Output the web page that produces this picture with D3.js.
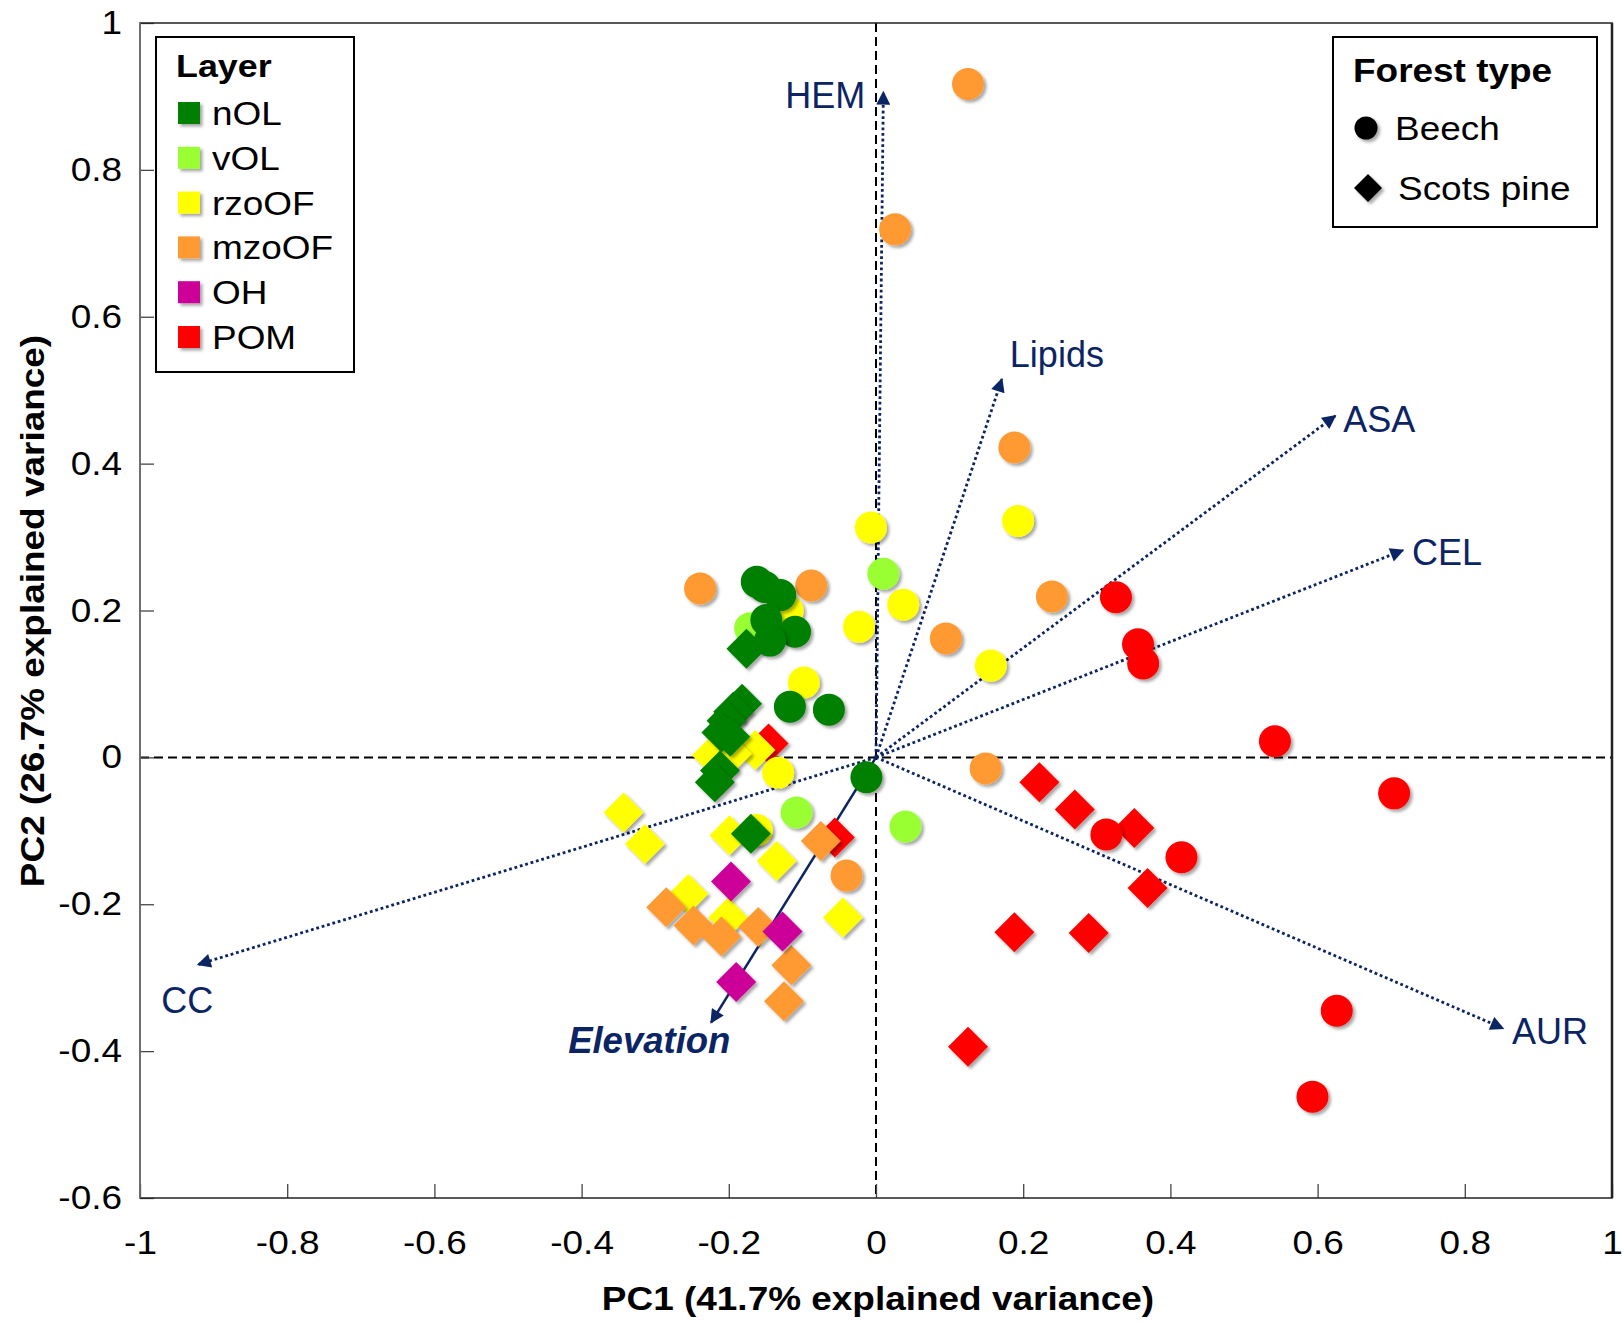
<!DOCTYPE html>
<html>
<head>
<meta charset="utf-8">
<script src="https://cdn.jsdelivr.net/npm/d3@7"></script>
<style>
  body { margin: 0; background: #fff; }
  svg { display: block; font-family: "Liberation Sans", Arial, sans-serif; }
</style>
</head>
<body>
<svg id="chart" width="1623" height="1322"></svg>
<script>
// --- data ---
const layers = ["nOL", "vOL", "rzoOF", "mzoOF", "OH", "POM"];
const layerColors = ["#008000", "#99FF33", "#FFFF00", "#FF9933", "#CC0099", "#FF0000"];
const forestTypes = ["Beech", "Scots pine"];

const xTicks = [-1, -0.8, -0.6, -0.4, -0.2, 0, 0.2, 0.4, 0.6, 0.8, 1];
const yTicks = [-0.6, -0.4, -0.2, 0, 0.2, 0.4, 0.6, 0.8, 1];

// sample scores [PC1, PC2], one array per layer x forest type
const pinePOM = [[0.222, -0.034], [0.270, -0.071], [0.351, -0.096], [0.369, -0.178], [0.188, -0.238],
  [0.289, -0.239], [0.125, -0.394], [-0.056, -0.109], [-0.146, 0.019]];
const beechPOM = [[0.326, 0.218], [0.356, 0.154], [0.363, 0.128], [0.313, -0.105], [0.415, -0.136],
  [0.542, 0.022], [0.704, -0.049], [0.626, -0.345], [0.593, -0.462]];
const pineRzoOF = [[-0.343, -0.075], [-0.314, -0.118], [-0.199, -0.106], [-0.135, -0.141], [-0.255, -0.186],
  [-0.201, -0.218], [-0.045, -0.218], [-0.164, 0.010], [-0.223, 0.003], [-0.196, 0.005]];
const beechRzoOF = [[-0.007, 0.313], [0.193, 0.322], [0.037, 0.208], [-0.023, 0.178], [0.156, 0.125],
  [-0.098, 0.102], [-0.133, -0.021], [-0.162, -0.099], [-0.120, 0.200]];
const beechVOL = [[0.010, 0.250], [-0.108, -0.075], [0.040, -0.094], [-0.171, 0.176]];
const pineMzoOF = [[-0.075, -0.114], [-0.285, -0.204], [-0.248, -0.229], [-0.210, -0.244], [-0.160, -0.231],
  [-0.115, -0.283], [-0.125, -0.332]];
const beechMzoOF = [[0.125, 0.917], [0.026, 0.719], [0.188, 0.422], [0.239, 0.219], [0.095, 0.162],
  [0.149, -0.015], [-0.040, -0.161], [-0.239, 0.230], [-0.088, 0.234]];
const pineOH = [[-0.197, -0.169], [-0.127, -0.237], [-0.190, -0.306]];
const pineNOL = [[-0.176, 0.148], [-0.182, 0.073], [-0.194, 0.062], [-0.203, 0.050], [-0.210, 0.034],
  [-0.198, 0.028], [-0.212, -0.018], [-0.219, -0.034], [-0.170, -0.104]];
const beechNOL = [[-0.162, 0.239], [-0.151, 0.232], [-0.130, 0.221], [-0.149, 0.187], [-0.110, 0.171],
  [-0.144, 0.159], [-0.117, 0.069], [-0.064, 0.065], [-0.013, -0.027]];

// variable loadings
const loadingNames = ["HEM", "Lipids", "ASA", "CEL", "AUR", "CC", "Elevation"];
const loadingPC1 = [0.010, 0.171, 0.624, 0.716, 0.852, -0.921, -0.224];
const loadingPC2 = [0.906, 0.515, 0.465, 0.282, -0.369, -0.282, -0.361];

// draw order (later series sit on top)
const series = [
  { layer: "POM", forest: "Scots pine", points: pinePOM },
  { layer: "POM", forest: "Beech", points: beechPOM },
  { layer: "rzoOF", forest: "Scots pine", points: pineRzoOF },
  { layer: "rzoOF", forest: "Beech", points: beechRzoOF },
  { layer: "vOL", forest: "Beech", points: beechVOL },
  { layer: "mzoOF", forest: "Scots pine", points: pineMzoOF },
  { layer: "mzoOF", forest: "Beech", points: beechMzoOF },
  { layer: "OH", forest: "Scots pine", points: pineOH },
  { layer: "nOL", forest: "Scots pine", points: pineNOL },
  { layer: "nOL", forest: "Beech", points: beechNOL }
];

// --- layout ---
const navy = "#0B2463";
const stretch = 1.12; // text in the figure is a bit wide
const labelOffsets = {
  HEM: [-18, 16, "end"], Lipids: [8, -12, "start"], ASA: [8, 16, "start"], CEL: [9, 15, "start"],
  AUR: [9, 16, "start"], CC: [-37, 49, "start"], Elevation: [-143, 31, "start"]
};

const svg = d3.select("#chart");
const x = d3.scaleLinear().domain([-1, 1]).range([140, 1612]);
const y = d3.scaleLinear().domain([-0.6, 1]).range([1198, 23]);
const color = d3.scaleOrdinal().domain(layers).range(layerColors);

const defs = svg.append("defs");
const shadow = defs.append("filter").attr("id", "shadow")
  .attr("x", "-30%").attr("y", "-30%").attr("width", "170%").attr("height", "170%");
shadow.append("feDropShadow").attr("dx", 2.5).attr("dy", 2.5).attr("stdDeviation", 1.5)
  .attr("flood-color", "#000").attr("flood-opacity", 0.35);

defs.append("marker")
  .attr("id", "arrow")
  .attr("viewBox", "0 -5 10 10")
  .attr("refX", 9).attr("refY", 0)
  .attr("markerUnits", "userSpaceOnUse")
  .attr("markerWidth", 16).attr("markerHeight", 14)
  .attr("orient", "auto")
  .append("path").attr("d", "M0,-5L10,0L0,5Z").attr("fill", navy);

// zero lines
svg.append("line")
  .attr("x1", x(0)).attr("x2", x(0)).attr("y1", y(1)).attr("y2", y(-0.6))
  .attr("stroke", "#000").attr("stroke-width", 2).attr("stroke-dasharray", "9,5");
svg.append("line")
  .attr("x1", x(-1)).attr("x2", x(1)).attr("y1", y(0)).attr("y2", y(0))
  .attr("stroke", "#000").attr("stroke-width", 2).attr("stroke-dasharray", "9,5");

// axes
const xAxis = svg.append("g")
  .attr("transform", `translate(0,${y(-0.6)})`)
  .call(d3.axisBottom(x).tickValues(xTicks).tickSizeInner(-14).tickSizeOuter(0)
    .tickPadding(33).tickFormat(d => String(d)));
const yAxis = svg.append("g")
  .attr("transform", `translate(${x(-1)},0)`)
  .call(d3.axisLeft(y).tickValues(yTicks).tickSizeInner(-14).tickSizeOuter(0)
    .tickPadding(18).tickFormat(d => String(d)));

[xAxis, yAxis].forEach(ax => {
  ax.select(".domain").remove();
  ax.selectAll(".tick line").attr("stroke", "#444").attr("stroke-width", 1.3);
  ax.selectAll(".tick text")
    .attr("font-size", 33).attr("fill", "#000")
    .attr("font-family", "'Liberation Sans', Arial, sans-serif")
    .attr("transform", `scale(${stretch},1)`);
});
yAxis.selectAll(".tick text").attr("x", -18 / stretch);

// plot frame
svg.append("rect")
  .attr("x", x(-1)).attr("y", y(1))
  .attr("width", x(1) - x(-1)).attr("height", y(-0.6) - y(1))
  .attr("fill", "none").attr("stroke", "#222").attr("stroke-width", 1.5);
svg.append("line").attr("x1", x(-1)).attr("x2", x(1)).attr("y1", y(-0.6)).attr("y2", y(-0.6))
  .attr("stroke", "#222").attr("stroke-width", 3).attr("filter", "url(#shadow)");
svg.append("line").attr("x1", x(1)).attr("x2", x(1)).attr("y1", y(1)).attr("y2", y(-0.6))
  .attr("stroke", "#222").attr("stroke-width", 2.5);
svg.append("line").attr("x1", x(-1)).attr("x2", x(-1)).attr("y1", y(1)).attr("y2", y(-0.6))
  .attr("stroke", "#777").attr("stroke-width", 1.5);

// loading vectors
const vectors = loadingNames.map((name, i) => ({ name, pc1: loadingPC1[i], pc2: loadingPC2[i] }));
svg.append("g").selectAll("line")
  .data(vectors).join("line")
  .attr("x1", x(0)).attr("y1", y(0))
  .attr("x2", d => x(d.pc1)).attr("y2", d => y(d.pc2))
  .attr("stroke", navy)
  .attr("stroke-width", d => d.name === "Elevation" ? 2.5 : 2.8)
  .attr("stroke-dasharray", d => d.name === "Elevation" ? null : "2.8,2.8")
  .attr("marker-end", "url(#arrow)");

// sample points
const diamond = "M0,-20L20,0L0,20L-20,0Z";
const pts = svg.append("g");
series.forEach(s => {
  const g = pts.append("g");
  const sel = g.selectAll("path").data(s.points).join("path")
    .attr("fill", color(s.layer))
    .attr("filter", "url(#shadow)")
    .attr("transform", d => `translate(${x(d[0])},${y(d[1])})`);
  sel.attr("d", s.forest === "Beech" ? d3.symbol(d3.symbolCircle, Math.PI * 16 * 16)() : diamond);
});

// vector labels
svg.append("g").selectAll("text")
  .data(vectors).join("text")
  .attr("x", d => x(d.pc1) + labelOffsets[d.name][0])
  .attr("y", d => y(d.pc2) + labelOffsets[d.name][1])
  .attr("text-anchor", d => labelOffsets[d.name][2])
  .attr("font-size", d => d.name === "Elevation" ? 36.5 : 36)
  .attr("font-weight", d => d.name === "Elevation" ? "bold" : null)
  .attr("font-style", d => d.name === "Elevation" ? "italic" : null)
  .attr("fill", navy)
  .text(d => d.name);

// axis titles
svg.append("text")
  .attr("transform", `translate(878,1310) scale(${stretch},1)`)
  .attr("text-anchor", "middle").attr("font-size", 33).attr("font-weight", "bold")
  .text("PC1 (41.7% explained variance)");
svg.append("text")
  .attr("transform", `translate(44,611) rotate(-90) scale(${stretch},1)`)
  .attr("text-anchor", "middle").attr("font-size", 33).attr("font-weight", "bold")
  .text("PC2 (26.7% explained variance)");

// legend: layer
const leg1 = svg.append("g");
leg1.append("rect").attr("x", 156).attr("y", 37).attr("width", 198).attr("height", 335)
  .attr("fill", "#fff").attr("stroke", "#000").attr("stroke-width", 2);
leg1.append("text").attr("transform", `translate(176,77) scale(${stretch},1)`)
  .attr("font-size", 32).attr("font-weight", "bold").text("Layer");
const items1 = leg1.selectAll("g.item").data(layers).join("g").attr("class", "item")
  .attr("transform", (d, i) => `translate(178,${113 + i * 44.8})`);
items1.append("rect").attr("x", 0).attr("y", -11).attr("width", 22).attr("height", 22)
  .attr("fill", d => color(d)).attr("filter", "url(#shadow)");
items1.append("text").attr("transform", `translate(34,12) scale(${stretch},1)`)
  .attr("font-size", 33).text(d => d);

// legend: forest type
const leg2 = svg.append("g");
leg2.append("rect").attr("x", 1333).attr("y", 37).attr("width", 264).attr("height", 190)
  .attr("fill", "#fff").attr("stroke", "#000").attr("stroke-width", 2);
leg2.append("text").attr("transform", `translate(1353,82) scale(${stretch},1)`)
  .attr("font-size", 33).attr("font-weight", "bold").text("Forest type");
const items2 = leg2.selectAll("g.item").data(forestTypes).join("g").attr("class", "item")
  .attr("transform", (d, i) => `translate(1366,${128 + i * 60})`);
items2.append("path")
  .attr("d", d => d === "Beech" ? d3.symbol(d3.symbolCircle, Math.PI * 11.5 * 11.5)() : "M0,-14L14,0L0,14L-14,0Z")
  .attr("transform", d => d === "Beech" ? null : "translate(2,0)")
  .attr("fill", "#000").attr("filter", "url(#shadow)");
items2.append("text")
  .attr("transform", (d, i) => `translate(${i === 0 ? 29 : 32},12) scale(${stretch},1)`)
  .attr("font-size", 33).text(d => d);
</script>
</body>
</html>
